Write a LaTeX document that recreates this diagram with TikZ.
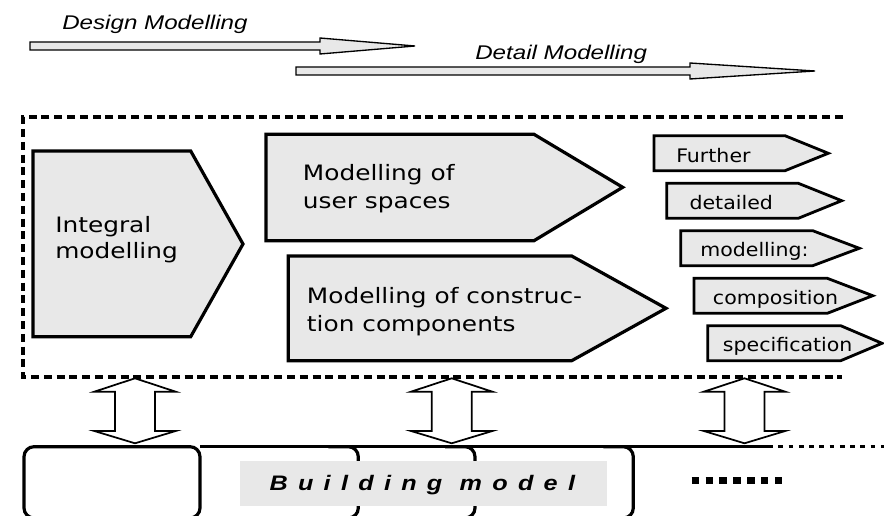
\documentclass[tikz,border=0pt]{standalone}
\usepackage{fontspec}
\newfontfamily\boxfont{DejaVu Sans}[FakeStretch=1.17]
\newfontfamily\smallfont{DejaVu Sans}[FakeStretch=1.1]
\newfontfamily\topfont{Liberation Sans}[FakeStretch=1.22]
\newfontfamily\bmfont{Liberation Sans}[FakeStretch=1.2,LetterSpace=49]
\definecolor{shapefill}{HTML}{E8E8E8}
\begin{document}
\begin{tikzpicture}[x=0.75pt,y=-0.75pt,
  blk/.style={draw=black, line width=2.4pt, fill=shapefill, line join=miter},
  smallblk/.style={draw=black, line width=2.1pt, fill=shapefill, line join=miter},
  bigtext/.style={anchor=base west, inner sep=0pt, font=\boxfont\fontsize{15.9}{19.5}\selectfont},
  smalltext/.style={anchor=base west, inner sep=0pt, font=\smallfont\fontsize{14}{16}\selectfont},
  toptext/.style={anchor=base west, inner sep=0pt, font=\topfont\itshape\fontsize{14.85}{18}\selectfont},
  flowarrow/.style={draw=black, line width=1pt, fill=shapefill},
  dblarrow/.style={draw=black, line width=1.3pt, fill=white, line join=miter},
  frameline/.style={line width=2.5pt, dash pattern=on 6pt off 3.6pt},
  modelline/.style={line width=2.4pt},
  bracket/.style={line width=2.4pt, rounded corners=7.5pt},
]
\useasboundingbox (0,0) rectangle (884,516);

% top phase arrows
\draw[flowarrow] (30,42) -- (320,42) -- (320,38) -- (415,46) -- (320,54) -- (320,50) -- (30,50) -- cycle;
\node[toptext] (design) at (62,29.3) {Design Modelling};
\draw[flowarrow] (296,67) -- (690,67) -- (690,63) -- (815,71) -- (690,79) -- (690,75) -- (296,75) -- cycle;
\node[toptext] (detail) at (475,59.3) {Detail Modelling};

% dashed frame
\draw[frameline] (843,117) -- (23,117) -- (23,377) -- (842,377);

% big blocks
\draw[blk] (33,151) -- (190.7,151) -- (243,244) -- (190.7,336.7) -- (33,336.7) -- cycle;
\node[bigtext] (integral) at (55,232.7) {\begin{tabular}[t]{@{}l@{}}Integral\\[-0.3pt]modelling\end{tabular}};
\draw[blk] (266,134.3) -- (534,134.3) -- (622.7,187.3) -- (534,240.7) -- (266,240.7) -- cycle;
\node[bigtext] (user) at (302.7,180.7) {\begin{tabular}[t]{@{}l@{}}Modelling of\\[1.5pt]user spaces\end{tabular}};
\draw[blk] (288.3,256) -- (571.7,256) -- (666,308.3) -- (571.7,360.7) -- (288.3,360.7) -- cycle;
\node[bigtext] (constr) at (306.7,303.3) {\begin{tabular}[t]{@{}l@{}}Modelling of construc-\\[1.5pt]tion components\end{tabular}};

% small blocks
\draw[smallblk] (654,135.7) -- (785,135.7) -- (828.3,153.3) -- (785,170.7) -- (654,170.7) -- cycle;
\node[smalltext] (further) at (676,162.7) {Further};
\draw[smallblk] (666.7,183.3) -- (798.3,183.3) -- (841.7,200.7) -- (798.3,218.3) -- (666.7,218.3) -- cycle;
\node[smalltext] (detailed) at (689.3,210) {detailed};
\draw[smallblk] (680.7,230.7) -- (812.7,230.7) -- (859.3,248.3) -- (812.7,265.7) -- (680.7,265.7) -- cycle;
\node[smalltext] (modelling) at (700,256.7) {modelling:};
\draw[smallblk] (694,278.3) -- (827.3,278.3) -- (872.7,295.7) -- (827.3,313.3) -- (694,313.3) -- cycle;
\node[smalltext] (composition) at (712.7,304.3) {composition};
\draw[smallblk] (707.7,325.7) -- (840.7,325.7) -- (882,343.3) -- (840.7,360.7) -- (707.7,360.7) -- cycle;
\node[smalltext] (specification) at (722.7,351.7) {specification};

% double arrows
\foreach \cx in {135, 451.7, 744.5}{
  \draw[dblarrow] (\cx,378.3) -- (\cx+40.7,391.7) -- (\cx+20,391.7) -- (\cx+20,431) -- (\cx+40.7,431)
    -- (\cx,443.3) -- (\cx-40.7,431) -- (\cx-20,431) -- (\cx-20,391.7) -- (\cx-40.7,391.7) -- cycle;
}

% building model row
\draw[modelline, rounded corners=7.5pt] (24,446.7) rectangle (200,518);
\coordinate (lineend) at (768,446.7);
\coordinate (dotend) at (884,446.7);
\draw[modelline] (200,446.7) -- (lineend);
\draw[line width=2.2pt, dash pattern=on 3.6pt off 4.1pt] (lineend) -- (dotend);
\foreach \bx in {358.3, 475, 633.3}{
  \draw[bracket] (\bx-30,446.7) -- (\bx,446.7) -- (\bx,518) -- (\bx-30,518);
}
\fill[shapefill] (240,460.7) rectangle (606.7,505.5);
\node[anchor=base west, inner sep=0pt, font=\bmfont\bfseries\itshape\fontsize{15.75}{18}\selectfont] (bm) at (269.3,490) {Building model};
\draw[line width=5.5pt, dash pattern=on 5.5pt off 4.9pt] (691.7,480.3) -- (783,480.3);
\end{tikzpicture}
\end{document}
